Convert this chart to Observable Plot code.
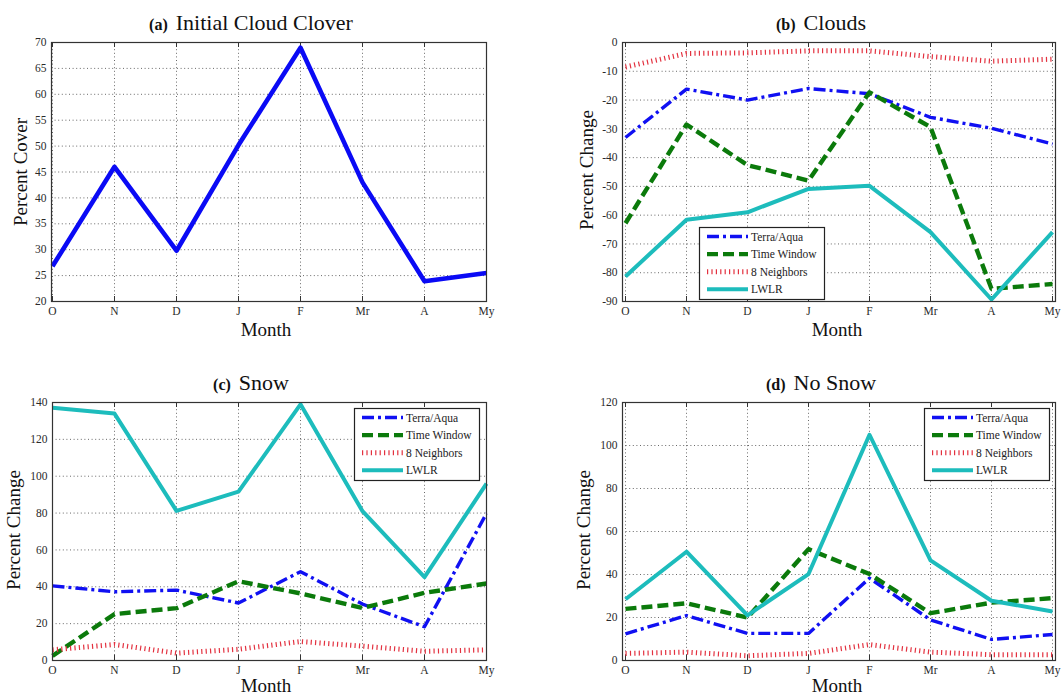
<!DOCTYPE html>
<html>
<head>
<meta charset="utf-8">
<script src="https://cdn.jsdelivr.net/npm/d3@7"></script>
<script src="https://cdn.jsdelivr.net/npm/@observablehq/plot@0.6"></script>
<style>
  html, body { margin: 0; padding: 0; background: #fff; }
  #root { position: relative; width: 1063px; height: 696px; overflow: hidden; background: #fff; }
  .panel { position: absolute; }
  #overlay { position: absolute; left: 0; top: 0; pointer-events: none; }
  svg text { font-family: "Liberation Serif", "Times New Roman", serif; }
</style>
</head>
<body>
<div id="root"></div>
<script>
// ---------- data ----------
const months = ["O", "N", "D", "J", "F", "Mr", "A", "My"];
const seriesNames = ["Terra/Aqua", "Time Window", "8 Neighbors", "LWLR"];

const coverValues = [26.8, 46, 29.8, 50.2, 69, 43, 23.9, 25.5];

const cloudsTerraAqua  = [-33, -16.2, -20, -16, -17.8, -26, -29.8, -35.3];
const cloudsTimeWindow = [-62.8, -28.5, -42.6, -48, -17.3, -29.4, -85.6, -83.9];
const cloudsNeighbors  = [-8.5, -3.8, -3.6, -2.9, -2.9, -4.9, -6.5, -5.8];
const cloudsLWLR       = [-81.3, -61.6, -59, -50.9, -49.8, -65.9, -89.3, -65.9];

const snowTerraAqua  = [40.5, 37.3, 38.2, 31.2, 48.2, 30.6, 18.3, 79.8];
const snowTimeWindow = [2.5, 25.2, 28.4, 43, 36.4, 28.5, 36.7, 41.8];
const snowNeighbors  = [5.8, 8.7, 4, 6.1, 10.3, 7.8, 5, 5.8];
const snowLWLR       = [137.2, 134, 81.2, 91.6, 139, 81, 45.2, 96];

const noSnowTerraAqua  = [12.4, 20.9, 12.6, 12.6, 38.3, 18.9, 9.8, 12.1];
const noSnowTimeWindow = [24, 26.6, 20, 51.8, 40.2, 22, 26.9, 29];
const noSnowNeighbors  = [3.3, 3.9, 2.2, 3.3, 7.4, 3.9, 2.7, 2.7];
const noSnowLWLR       = [28.5, 50.6, 21, 40.2, 105, 46.6, 27.8, 22.8];

const yTicksA = [20, 25, 30, 35, 40, 45, 50, 55, 60, 65, 70];
const yTicksB = [-90, -80, -70, -60, -50, -40, -30, -20, -10, 0];
const yTicksC = [0, 20, 40, 60, 80, 100, 120, 140];
const yTicksD = [0, 20, 40, 60, 80, 100, 120];

const titleTags = ["(a)", "(b)", "(c)", "(d)"];
const titleTexts = ["Initial Cloud Clover", "Clouds", "Snow", "No Snow"];
const xAxisLabel = "Month";
const yAxisLabels = ["Percent Cover", "Percent Change", "Percent Change", "Percent Change"];

// ---------- tables ----------
function table(seriesArrays) {
  const rows = [];
  seriesArrays.forEach((vals, si) => {
    vals.forEach((v, mi) => rows.push({series: seriesNames[si], month: months[mi], value: v}));
  });
  return rows;
}
const coverTable = coverValues.map((v, i) => ({series: "Cover", month: months[i], value: v}));
const cloudsTable = table([cloudsTerraAqua, cloudsTimeWindow, cloudsNeighbors, cloudsLWLR]);
const snowTable = table([snowTerraAqua, snowTimeWindow, snowNeighbors, snowLWLR]);
const noSnowTable = table([noSnowTerraAqua, noSnowTimeWindow, noSnowNeighbors, noSnowLWLR]);

// ---------- styles ----------
const FONT = "Liberation Serif, Times New Roman, serif";
const seriesStyle = {
  "Cover":       {stroke: "#0a0af5", width: 4.6, dash: null},
  "Terra/Aqua":  {stroke: "#1010f2", width: 3.4, dash: "12,4,3,4"},
  "Time Window": {stroke: "#0b7a0b", width: 4.4, dash: "11,5"},
  "8 Neighbors": {stroke: "#e3313f", width: 5,   dash: "1.2,3.2"},
  "LWLR":        {stroke: "#1dbcbc", width: 4,   dash: null}
};

// panel geometry: svg box + frame margins
const panels = [
  {left: 0,   top: 0,   w: 531, h: 348, mt: 42, mr: 45, mb: 47, ml: 51, data: coverTable,  series: ["Cover"],   ticks: yTicksA},
  {left: 531, top: 0,   w: 532, h: 348, mt: 42, mr: 8,  mb: 47, ml: 91, data: cloudsTable, series: seriesNames, ticks: yTicksB},
  {left: 0,   top: 348, w: 531, h: 348, mt: 54, mr: 45, mb: 36, ml: 52, data: snowTable,   series: seriesNames, ticks: yTicksC},
  {left: 531, top: 348, w: 532, h: 348, mt: 54, mr: 8,  mb: 36, ml: 91, data: noSnowTable, series: seriesNames, ticks: yTicksD}
];

const root = document.getElementById("root");
const gridStyle = {stroke: "#444", strokeOpacity: 0.8, strokeDasharray: "1,2.6", strokeWidth: 1};
const tickStyle = {stroke: "#333", strokeWidth: 1};
const tickText = {tickSize: 0, tickPadding: 5, fontSize: 11.5, fontFamily: FONT, fill: "#2a2a2a", label: null};

panels.forEach((p) => {
  const ymin = p.ticks[0], ymax = p.ticks[p.ticks.length - 1];
  const xFirst = months[0], xLast = months[months.length - 1];
  const marks = [
    Plot.gridX(months, gridStyle),
    Plot.gridY(p.ticks, gridStyle),
    // inward ticks (bottom, top, left, right)
    Plot.ruleX(months, {x: d => d, y1: ymin, y2: ymin, insetBottom: 5, ...tickStyle}),
    Plot.ruleX(months, {x: d => d, y1: ymax, y2: ymax, insetTop: 5, ...tickStyle}),
    Plot.ruleY(p.ticks, {y: d => d, x1: xFirst, x2: xFirst, insetLeft: 5, ...tickStyle}),
    Plot.ruleY(p.ticks, {y: d => d, x1: xLast, x2: xLast, insetRight: 5, ...tickStyle}),
    Plot.axisX(months, tickText),
    Plot.axisY(p.ticks, {...tickText, tickFormat: d => String(d)})
  ];
  p.series.forEach((s) => {
    const st = seriesStyle[s];
    marks.push(Plot.line(p.data.filter(d => d.series === s), {
      x: "month", y: "value",
      stroke: st.stroke, strokeWidth: st.width,
      strokeDasharray: st.dash || undefined,
      strokeLinecap: "butt", strokeLinejoin: "round"
    }));
  });
  marks.push(Plot.frame({stroke: "#333", strokeWidth: 1.2}));

  const svg = Plot.plot({
    width: p.w, height: p.h,
    marginTop: p.mt, marginRight: p.mr, marginBottom: p.mb, marginLeft: p.ml,
    style: {fontFamily: FONT, fontSize: "11.5px", background: "transparent", overflow: "visible"},
    x: {type: "point", domain: months, padding: 0, label: null},
    y: {domain: [ymin, ymax], label: null},
    marks
  });
  const div = document.createElement("div");
  div.className = "panel";
  div.style.left = p.left + "px";
  div.style.top = p.top + "px";
  div.appendChild(svg);
  root.appendChild(div);
});

// ---------- overlay: titles, axis labels, legends ----------
const ov = d3.select(root).append("svg")
  .attr("id", "overlay").attr("width", 1063).attr("height", 696)
  .attr("font-family", FONT);

const titlePos = [[251, 30], [821, 30], [251, 390], [821, 390]];
titlePos.forEach(([x, y], i) => {
  const t = ov.append("text").attr("x", x).attr("y", y).attr("text-anchor", "middle").attr("fill", "#111");
  t.append("tspan").attr("font-weight", "bold").attr("font-size", 16).text(titleTags[i]);
  t.append("tspan").attr("font-size", 22).attr("dx", 8).text(titleTexts[i]);
});

const monthPos = [[266, 336], [837, 336], [266, 692], [837, 692]];
monthPos.forEach(([x, y]) => {
  ov.append("text").attr("x", x).attr("y", y).attr("text-anchor", "middle")
    .attr("font-size", 19).attr("fill", "#111").text(xAxisLabel);
});

const yLabPos = [[27, 172], [593, 170], [20, 530], [590, 530]];
yLabPos.forEach(([x, y], i) => {
  ov.append("text").attr("transform", `translate(${x},${y}) rotate(-90)`)
    .attr("text-anchor", "middle").attr("font-size", 19).attr("fill", "#111").text(yAxisLabels[i]);
});

const legendPos = [[699, 227], [354, 408], [924, 408]];
legendPos.forEach(([x, y]) => {
  const g = ov.append("g").attr("transform", `translate(${x},${y})`);
  g.append("rect").attr("x", 0.5).attr("y", 0.5).attr("width", 125).attr("height", 72)
    .attr("fill", "#fff").attr("stroke", "#222").attr("stroke-width", 1.2);
  seriesNames.forEach((s, i) => {
    const st = seriesStyle[s];
    const cy = 9.5 + i * 17.6;
    g.append("line").attr("x1", 8).attr("x2", 49).attr("y1", cy).attr("y2", cy)
      .attr("stroke", st.stroke).attr("stroke-width", st.width)
      .attr("stroke-dasharray", st.dash || null);
    g.append("text").attr("x", 52).attr("y", cy).attr("dy", "0.35em")
      .attr("font-family", FONT).attr("font-size", 11.5).attr("fill", "#222").text(s);
  });
});
</script>
</body>
</html>
